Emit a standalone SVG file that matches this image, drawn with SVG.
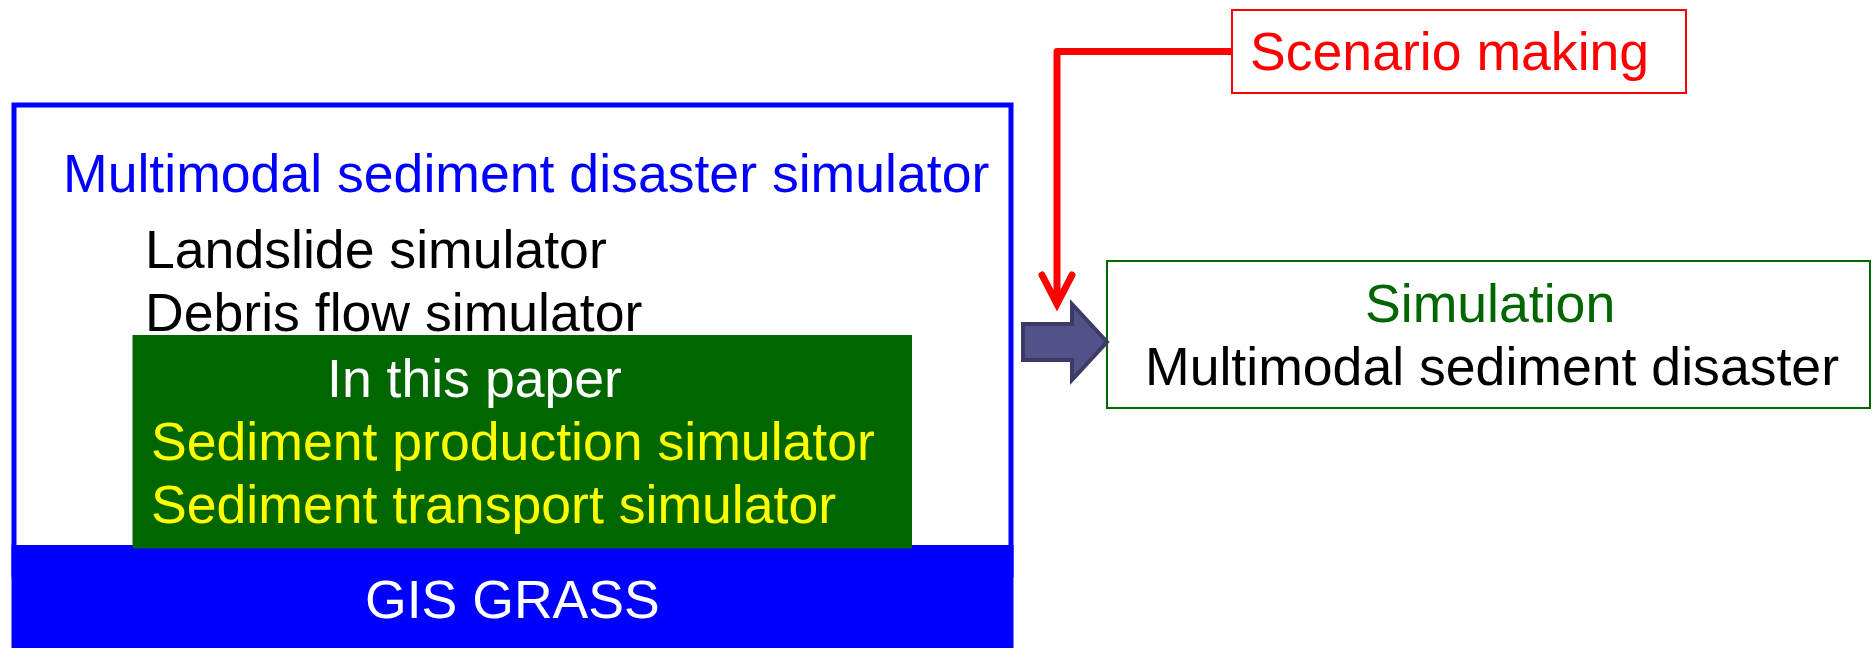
<svg xmlns="http://www.w3.org/2000/svg" width="1872" height="648" viewBox="0 0 1872 648">
  <style>
    text { font-family: "Liberation Sans", Arial, sans-serif; font-size: 53.6px; }
    .blue { fill: #0000ff; }
    .black { fill: #000000; }
    .white { fill: #ffffff; }
    .yellow { fill: #ffff00; }
    .red { fill: #ff0000; }
    .green { fill: #006600; }
  </style>
  <rect x="0" y="0" width="1872" height="648" fill="#ffffff"/>

  <g id="simulator-box">
    <rect x="14" y="105" width="997" height="470" fill="#ffffff" stroke="#0000ff" stroke-width="5"/>
    <text class="blue" x="63" y="192">Multimodal sediment disaster simulator</text>
    <text class="black" x="145" y="268">Landslide simulator</text>
    <text class="black" x="145" y="331">Debris flow simulator</text>
  </g>

  <g id="gis-grass">
    <rect x="11.5" y="545" width="1002" height="103" fill="#0000ff"/>
    <text class="white" x="365" y="618">GIS GRASS</text>
  </g>

  <g id="this-paper">
    <rect x="132.5" y="335" width="779.5" height="213.5" fill="#006600"/>
    <text class="white" x="327" y="397">In this paper</text>
    <text class="yellow" x="151" y="460">Sediment production simulator</text>
    <text class="yellow" x="151" y="523">Sediment transport simulator</text>
  </g>

  <g id="scenario-making">
    <rect x="1232" y="10" width="454" height="83" fill="#ffffff" stroke="#ff0000" stroke-width="2"/>
    <text class="red" x="1250" y="70">Scenario making</text>
  </g>

  <g id="simulation">
    <rect x="1107" y="261" width="763" height="147" fill="#ffffff" stroke="#006600" stroke-width="2"/>
    <text class="green" x="1365" y="322">Simulation</text>
    <text class="black" x="1145" y="385">Multimodal sediment disaster</text>
  </g>

  <g id="connectors">
    <path d="M1232,51.5 H1057 V303" fill="none" stroke="#ff0000" stroke-width="7" stroke-linejoin="round"/>
    <path d="M1042,275 L1057,304 L1072,275" fill="none" stroke="#ff0000" stroke-width="7" stroke-linecap="round" stroke-linejoin="miter"/>
    <path d="M1023,324 H1072 V304 L1107,342 L1072,380 V360 H1023 Z" fill="#525288" stroke="#3b3b66" stroke-width="4" stroke-linejoin="miter"/>
  </g>
</svg>
